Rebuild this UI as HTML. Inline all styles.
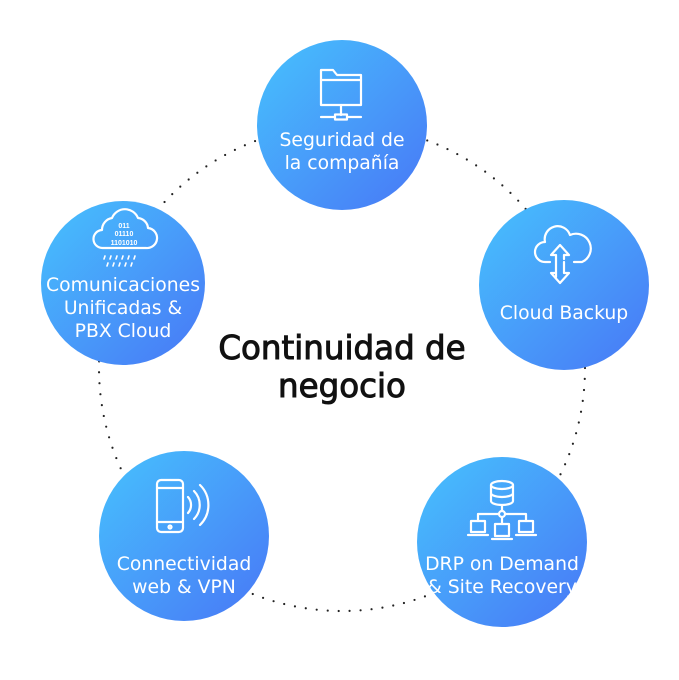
<!DOCTYPE html>
<html><head><meta charset="utf-8"><style>
html,body{margin:0;padding:0;background:#fff;}
svg{display:block}
.t{font-family:"DejaVu Sans",sans-serif;fill:#fff;font-size:18.8px;text-anchor:middle}
.ic{fill:none;stroke:#fff;stroke-width:2.2;stroke-linejoin:round;stroke-linecap:round}
</style></head><body>
<svg width="679" height="680" viewBox="0 0 679 680">
<defs>
<linearGradient id="g" x1="0" y1="0" x2="1" y2="1">
<stop offset="0" stop-color="#47c2fd"/><stop offset="1" stop-color="#4877f6"/>
</linearGradient>
</defs>
<circle cx="342" cy="368" r="243" fill="none" stroke="#222" stroke-width="2.2" stroke-linecap="round" stroke-dasharray="0 11"/>
<circle cx="342" cy="125" r="85" fill="url(#g)"/>
<circle cx="564" cy="285" r="85" fill="url(#g)"/>
<circle cx="502" cy="542" r="85" fill="url(#g)"/>
<circle cx="184" cy="536" r="85" fill="url(#g)"/>
<circle cx="123" cy="283" r="82" fill="url(#g)"/>

<g class="ic">
<path d="M321 70 h12 l4 5 h24 v30 h-40 z"/><path d="M321 80 h40"/>
<path d="M341 105 v10 M321 117 h14 M347 117 h14"/><rect x="335" y="114.5" width="12" height="5"/>
</g>
<text class="t" x="342" y="146">Seguridad de</text>
<text class="t" x="342" y="169">la compañía</text>

<g class="ic">
<path d="M550 262 h-5 a10 10 0 0 1 0 -20 a13 13 0 0 1 25 -7 a10 10 0 0 1 12 27 h-8"/>
<path d="M556 277 v-22 h-5 l9 -10 l9 10 h-5 v4"/>
<path d="M564 262 v11 h5 l-9 10 l-9 -10 h5"/>
</g>
<text class="t" x="564" y="319">Cloud Backup</text>

<g class="ic">
<ellipse cx="502" cy="485" rx="11" ry="4"/><path d="M491 485 v16 a11 4 0 0 0 22 0 v-16 M491 493 a11 4 0 0 0 22 0"/>
<path d="M502 505 v6"/><circle cx="502" cy="514" r="3"/>
<path d="M499 514 h-21 v7 M505 514 h21 v7 M502 517 v7"/>
<rect x="471" y="521" width="14" height="11"/><path d="M468 535 h20"/>
<rect x="519" y="521" width="14" height="11"/><path d="M516 535 h20"/>
<rect x="495" y="524" width="14" height="12"/><path d="M492 539 h20"/>
</g>
<text class="t" x="502" y="570">DRP on Demand</text>
<text class="t" x="502" y="593">&amp; Site Recovery</text>

<g class="ic">
<rect x="157" y="480" width="26" height="52" rx="4"/><path d="M157 488 h26 M157 522 h26"/>
<circle cx="170" cy="527" r="1.5"/>
<path d="M188 497 a12 12 0 0 1 0 16 M194 491 a20 20 0 0 1 0 28 M200 485 a28 28 0 0 1 0 40"/>
</g>
<text class="t" x="184" y="570">Connectividad</text>
<text class="t" x="184" y="593">web &amp; VPN</text>

<g class="ic">
<path d="M103 248 a9 9 0 0 1 -1 -18 a12 12 0 0 1 10 -12 a14 14 0 0 1 26 0 a11 11 0 0 1 10 10 a10 10 0 0 1 -2 20 z"/>
<path d="M105 256 l-1 3 M111 256 l-1 3 M117 256 l-1 3 M123 256 l-1 3 M129 256 l-1 3 M135 256 l-1 3 M108 263 l-1 3 M114 263 l-1 3 M120 263 l-1 3 M126 263 l-1 3 M132 263 l-1 3" stroke-width="1.6"/>
</g>
<text x="124" y="228" font-family="Liberation Sans,sans-serif" font-size="7" font-weight="bold" fill="#fff" text-anchor="middle">011</text>
<text x="124" y="236" font-family="Liberation Sans,sans-serif" font-size="7" font-weight="bold" fill="#fff" text-anchor="middle">01110</text>
<text x="124" y="245" font-family="Liberation Sans,sans-serif" font-size="7" font-weight="bold" fill="#fff" text-anchor="middle">1101010</text>
<text class="t" x="123" y="291">Comunicaciones</text>
<text class="t" x="123" y="314">Unificadas &amp;</text>
<text class="t" x="123" y="337">PBX Cloud</text>

<text x="342" y="359" font-family="DejaVu Sans,sans-serif" font-size="32.5" fill="#111" text-anchor="middle" stroke="#111" stroke-width="1">Continuidad de</text>
<text x="342" y="397" font-family="DejaVu Sans,sans-serif" font-size="32.5" fill="#111" text-anchor="middle" stroke="#111" stroke-width="1">negocio</text>
</svg>
</body></html>
